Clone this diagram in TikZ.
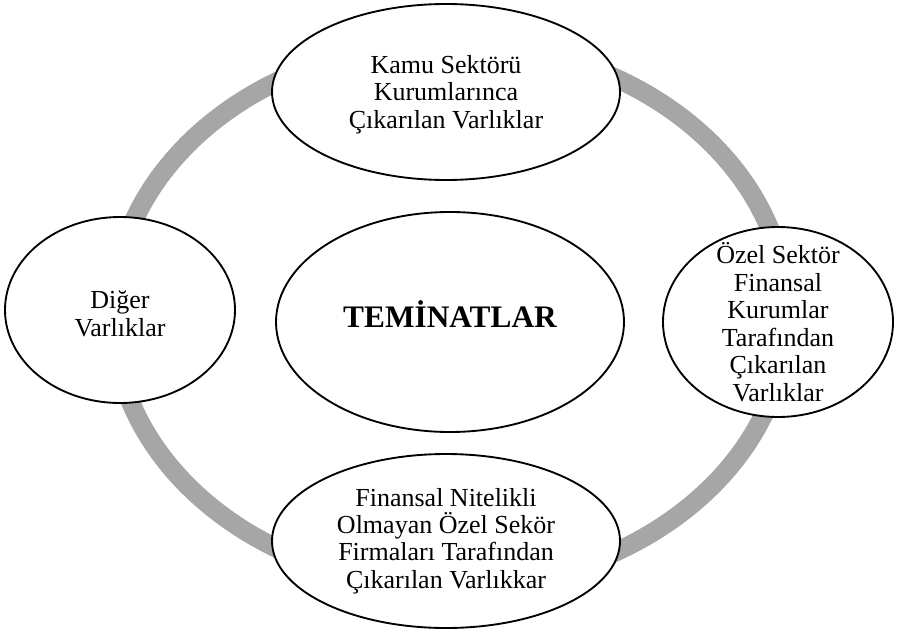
\documentclass[tikz,border=0pt]{standalone}
\usepackage{fontspec}
\setmainfont{Liberation Serif}
\usetikzlibrary{shapes.geometric}
\definecolor{halkagri}{RGB}{166,166,166}

\begin{document}
\begin{tikzpicture}[x=0.75pt,y=-0.75pt,inner sep=0pt,
  kutu/.style={draw,ellipse,line width=1.4pt,fill=white},
  yazi/.style={align=center,font=\fontsize{19.5}{20.6}\selectfont},
  halka/.style={draw=halkagri,line width=14.25pt}]
\useasboundingbox (0,0) rectangle (898,635);
\coordinate (merkez) at (450,315);
\draw [halka] (merkez) ellipse [x radius=337,y radius=272];
% elipsler
\draw node [kutu,minimum width=261pt,minimum height=132pt] (kamu) at (446,92) {};
\draw node [kutu,minimum width=172.5pt,minimum height=139.5pt] (diger) at (120,310) {};
\draw node [kutu,minimum width=261pt,minimum height=165pt] (teminat) at (450,322) {};
\draw node [kutu,minimum width=172.5pt,minimum height=142.5pt] (ozel) at (778,322) {};
\draw node [kutu,minimum width=261pt,minimum height=130.5pt] (firma) at (446,541) {};
% metinler
\node [yazi,yshift=-2pt] (kamuyazi) at (kamu) {Kamu Sektörü\\Kurumlarınca\\Çıkarılan Varlıklar};
\node [yazi,yshift=-3pt] (digeryazi) at (diger) {Diğer\\Varlıklar};
\node [font=\fontsize{23.5}{26}\selectfont\bfseries,yshift=6pt] (teminatyazi) at (teminat) {TEMİNATLAR};
\node [yazi] (ozelyazi) at (ozel) {Özel Sektör\\Finansal\\Kurumlar\\Tarafından\\Çıkarılan\\Varlıklar};
\node [yazi] (firmayazi) at (firma) {Finansal Nitelikli\\Olmayan Özel Sekör\\Firmaları Tarafından\\Çıkarılan Varlıkkar};
\end{tikzpicture}
\end{document}
